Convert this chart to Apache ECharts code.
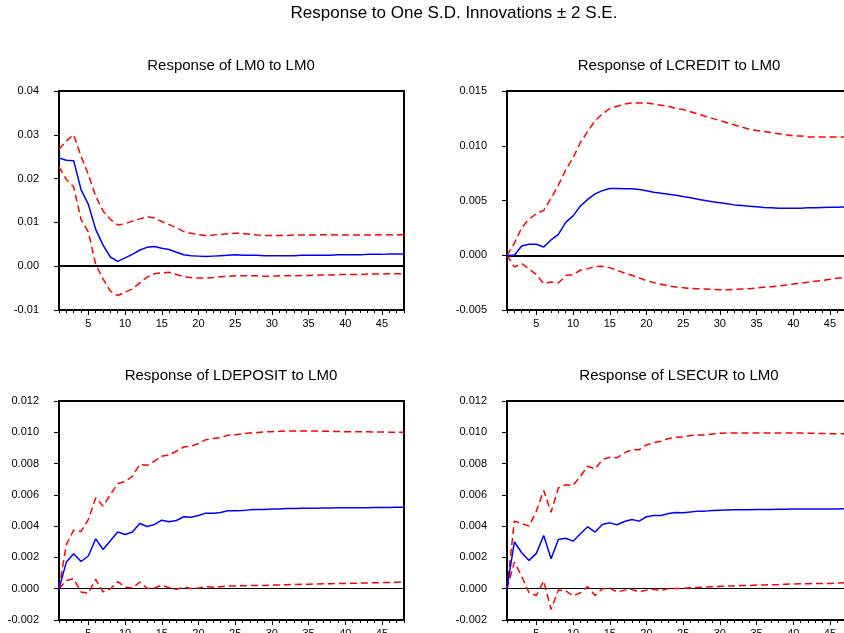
<!DOCTYPE html>
<html>
<head>
<meta charset="utf-8">
<script src="https://cdn.jsdelivr.net/npm/echarts@6/dist/echarts.min.js"></script>
<style>
  html, body { margin: 0; padding: 0; background: #fff; }
  #chart { width: 844px; height: 633px; }
</style>
</head>
<body>
<div id="chart"></div>
<script>
// Impulse responses to a one S.D. shock in LM0, periods 1..48
const periods = Array.from({ length: 48 }, (_, i) => String(i + 1));

const panelTitles = [
  'Response of LM0 to LM0',
  'Response of LCREDIT to LM0',
  'Response of LDEPOSIT to LM0',
  'Response of LSECUR to LM0'
];

// LM0 -> LM0
const lm0Resp = [0.0247,0.0242,0.0241,0.0175,0.0141,0.0084,0.0048,0.0021,0.0011,0.0019,0.0027,0.0037,0.0043,0.0045,0.0041,0.0038,0.0032,0.0026,0.0024,0.0023,0.0022,0.0023,0.0024,0.0025,0.0026,0.0025,0.0025,0.0025,0.0024,0.0024,0.0024,0.0024,0.0024,0.0025,0.0025,0.0025,0.0025,0.0025,0.0026,0.0026,0.0026,0.0026,0.0027,0.0027,0.0027,0.0028,0.0028,0.0028];
const lm0Upper = [0.0267,0.0286,0.0300,0.0251,0.0209,0.0160,0.0126,0.0107,0.0094,0.0097,0.0103,0.0108,0.0113,0.0110,0.0102,0.0095,0.0088,0.0079,0.0075,0.0072,0.0070,0.0071,0.0073,0.0074,0.0075,0.0075,0.0073,0.0071,0.0070,0.0070,0.0070,0.0070,0.0071,0.0071,0.0071,0.0071,0.0072,0.0072,0.0071,0.0071,0.0071,0.0071,0.0071,0.0072,0.0072,0.0072,0.0072,0.0072];
const lm0Lower = [0.0227,0.0198,0.0181,0.0107,0.0078,0.0004,-0.0029,-0.0057,-0.0067,-0.0059,-0.0052,-0.0038,-0.0025,-0.0017,-0.0015,-0.0014,-0.0019,-0.0024,-0.0026,-0.0027,-0.0027,-0.0026,-0.0024,-0.0023,-0.0022,-0.0022,-0.0022,-0.0022,-0.0023,-0.0023,-0.0022,-0.0022,-0.0022,-0.0021,-0.0021,-0.0020,-0.0020,-0.0020,-0.0019,-0.0019,-0.0019,-0.0019,-0.0018,-0.0018,-0.0018,-0.0017,-0.0017,-0.0017];

// LM0 -> LCREDIT
const creditResp = [0,0,0.00085,0.0010,0.0010,0.00076,0.0014,0.0019,0.0030,0.0036,0.0045,0.0051,0.0056,0.0059,0.0061,0.0061,0.00608,0.00607,0.0060,0.0059,0.00576,0.00567,0.00558,0.00548,0.00537,0.00525,0.00512,0.0050,0.00488,0.00479,0.0047,0.0046,0.00454,0.00448,0.00442,0.00436,0.00433,0.0043,0.0043,0.0043,0.0043,0.00433,0.00433,0.00436,0.00439,0.00439,0.00442,0.00445];
const creditUpper = [0,0.0011,0.0025,0.0033,0.0038,0.0041,0.0052,0.0064,0.0078,0.0089,0.0103,0.0113,0.0123,0.0129,0.0134,0.0136,0.0138,0.0139,0.0139,0.0139,0.0138,0.0137,0.0136,0.0134,0.0133,0.0131,0.0129,0.0127,0.0125,0.0123,0.0121,0.0119,0.0117,0.0115,0.0114,0.0113,0.0112,0.0111,0.0110,0.0109,0.0109,0.0108,0.0108,0.0108,0.0108,0.0108,0.0108,0.0108];
const creditLower = [0,-0.00107,-0.00076,-0.00125,-0.00177,-0.0026,-0.00244,-0.00253,-0.00186,-0.00177,-0.00137,-0.00122,-0.00104,-0.0010,-0.00113,-0.00137,-0.00162,-0.00183,-0.00207,-0.00232,-0.0025,-0.00265,-0.0028,-0.0029,-0.00296,-0.00302,-0.00305,-0.00308,-0.00311,-0.00314,-0.00314,-0.00311,-0.00308,-0.00305,-0.00299,-0.00293,-0.00287,-0.0028,-0.00271,-0.00262,-0.00256,-0.00247,-0.00238,-0.00229,-0.0022,-0.0021,-0.00204,-0.0020];

// LM0 -> LDEPOSIT
const depositResp = [0,0.0017,0.00223,0.00174,0.00209,0.00319,0.00251,0.00306,0.00362,0.00347,0.00362,0.00417,0.00398,0.00411,0.00438,0.00428,0.00436,0.0046,0.00457,0.00468,0.00483,0.00483,0.00487,0.00498,0.00498,0.0050,0.00504,0.00506,0.00506,0.0051,0.0051,0.00513,0.00513,0.00515,0.00515,0.00515,0.00516,0.00516,0.00517,0.00517,0.00518,0.00518,0.00518,0.00519,0.00519,0.00519,0.0052,0.0052];
const depositUpper = [0,0.00283,0.00374,0.00366,0.00443,0.00581,0.00528,0.00602,0.00672,0.00685,0.00719,0.00794,0.00789,0.00815,0.00847,0.00855,0.00879,0.00906,0.00911,0.00928,0.00953,0.0096,0.00966,0.00981,0.00985,0.0099,0.00996,0.00998,0.01002,0.01004,0.01006,0.01009,0.01009,0.01009,0.01009,0.01009,0.01006,0.01006,0.01005,0.01004,0.01004,0.01003,0.01003,0.01002,0.01002,0.01001,0.01001,0.0100];
const depositLower = [0,0.00053,0.00064,-0.00021,-0.00028,0.0006,-0.0002,0.0,0.00045,0.0001,0.00004,0.00043,0.00002,0.00004,0.00023,0.00006,-0.00004,0.0001,0.00002,0.00004,0.00013,0.0001,0.00013,0.00017,0.00017,0.00019,0.0002,0.0002,0.00021,0.00023,0.00024,0.00026,0.00027,0.00028,0.00029,0.0003,0.00031,0.00032,0.00033,0.00034,0.00035,0.00036,0.00037,0.00038,0.00039,0.0004,0.00041,0.00043];

// LM0 -> LSECUR
const securResp = [0,0.0030,0.0023,0.00181,0.00226,0.0034,0.00191,0.00315,0.00323,0.00304,0.00351,0.00396,0.00362,0.00411,0.00421,0.00409,0.0043,0.00443,0.00432,0.0046,0.00468,0.00468,0.00481,0.00487,0.00485,0.00491,0.00496,0.00496,0.0050,0.00502,0.00503,0.00504,0.00505,0.00505,0.00506,0.00507,0.00507,0.00508,0.00508,0.00509,0.00509,0.00509,0.0051,0.0051,0.0051,0.0051,0.00511,0.00511];
const securUpper = [0,0.00432,0.00417,0.0040,0.00496,0.00628,0.00489,0.00645,0.00664,0.0066,0.00719,0.00783,0.00766,0.00826,0.0084,0.00838,0.00868,0.00889,0.00889,0.00919,0.00934,0.00943,0.0096,0.00968,0.0097,0.00979,0.00983,0.00983,0.00989,0.00994,0.00995,0.00996,0.00996,0.00996,0.00996,0.00996,0.00996,0.00996,0.00996,0.00996,0.00995,0.00994,0.00993,0.00992,0.00991,0.0099,0.0099,0.0099];
const securLower = [0,0.0017,0.0008,-0.00026,-0.00043,0.00049,-0.00132,-0.00009,-0.00013,-0.00047,-0.00026,0.00013,-0.00043,0.0,0.00004,-0.00021,-0.00009,-0.00004,-0.00021,-0.00009,-0.00004,-0.00013,0.00002,0.00002,0.00002,0.00006,0.00008,0.0001,0.00013,0.00015,0.00017,0.00018,0.0002,0.00021,0.00023,0.00024,0.00026,0.00027,0.00029,0.0003,0.00031,0.00032,0.00033,0.00034,0.00034,0.00036,0.00038,0.00038];

// Y-axis ranges for each panel
const yMin = [-0.01, -0.005, -0.002, -0.002];
const yMax = [0.04, 0.015, 0.012, 0.012];
const yStep = [0.01, 0.005, 0.002, 0.002];
const yDigits = [2, 3, 3, 3];

const panels = [
  [lm0Resp, lm0Upper, lm0Lower],
  [creditResp, creditUpper, creditLower],
  [depositResp, depositUpper, depositLower],
  [securResp, securUpper, securLower]
];

const gridPos = [
  { left: 59, top: 91 },
  { left: 507, top: 91 },
  { left: 59, top: 401 },
  { left: 507, top: 401 }
];
const zeroLineWidth = [2, 2, 1.2, 1.2];

const FONT = 'Liberation Sans, Arial, sans-serif';

const grids = [], xAxes = [], yAxes = [], series = [], titles = [];

titles.push({
  text: 'Response to One S.D. Innovations \u00b1 2 S.E.',
  left: 454, top: 5, textAlign: 'center', padding: 0,
  textStyle: { fontFamily: FONT, fontSize: 17, fontWeight: 'normal', color: '#000' }
});

panels.forEach((p, i) => {
  const g = gridPos[i];
  grids.push({
    left: g.left, top: g.top, width: 345, height: 219,
    outerBoundsMode: 'none', containLabel: false,
    show: true, borderColor: '#000', borderWidth: 2, backgroundColor: 'transparent'
  });
  titles.push({
    text: panelTitles[i],
    left: g.left + 172, top: g.top - 33, textAlign: 'center', padding: 0,
    textStyle: { fontFamily: FONT, fontSize: 15, fontWeight: 'normal', color: '#000' }
  });
  // short ticks on every period, labels every 5
  xAxes.push({
    type: 'category', gridIndex: i, data: periods, boundaryGap: false,
    axisLine: { onZero: false, lineStyle: { color: '#000', width: 2 } },
    axisTick: { show: true, interval: 0, length: 3, lineStyle: { color: '#000', width: 1 } },
    axisLabel: {
      interval: (idx, v) => Number(v) % 5 === 0,
      margin: 8, fontFamily: FONT, fontSize: 11, color: '#000'
    },
    splitLine: { show: false }
  });
  // longer ticks every 5 periods
  xAxes.push({
    type: 'category', gridIndex: i, data: periods, boundaryGap: false, position: 'bottom',
    axisLine: { show: false, onZero: false },
    axisTick: { show: true, interval: (idx, v) => Number(v) % 5 === 0, length: 5, lineStyle: { color: '#000', width: 1 } },
    axisLabel: { show: false },
    splitLine: { show: false }
  });
  yAxes.push({
    type: 'value', gridIndex: i, min: yMin[i], max: yMax[i], interval: yStep[i],
    axisLine: { show: true, onZero: false, lineStyle: { color: '#000', width: 2 } },
    axisTick: { show: true, length: 5, lineStyle: { color: '#000', width: 1 } },
    axisLabel: {
      margin: 20, fontFamily: FONT, fontSize: 11, color: '#000',
      formatter: v => v.toFixed(yDigits[i])
    },
    splitLine: { show: false }
  });
  const xi = i * 2;
  series.push({
    type: 'line', xAxisIndex: xi, yAxisIndex: i, data: p[1],
    symbol: 'none', silent: true,
    lineStyle: { color: '#ff0000', width: 1.5, type: [7, 4] },
    markLine: {
      silent: true, symbol: 'none', label: { show: false },
      lineStyle: { color: '#000', width: zeroLineWidth[i], type: 'solid' },
      data: [{ yAxis: 0 }], z: 1
    }
  });
  series.push({
    type: 'line', xAxisIndex: xi, yAxisIndex: i, data: p[2],
    symbol: 'none', silent: true,
    lineStyle: { color: '#ff0000', width: 1.5, type: [7, 4] }
  });
  series.push({
    type: 'line', xAxisIndex: xi, yAxisIndex: i, data: p[0],
    symbol: 'none', silent: true,
    lineStyle: { color: '#0000ff', width: 1.5 }
  });
});

const chart = echarts.init(document.getElementById('chart'), null, { renderer: 'canvas' });
chart.setOption({
  animation: false,
  backgroundColor: '#fff',
  title: titles,
  grid: grids,
  xAxis: xAxes,
  yAxis: yAxes,
  series: series
});
</script>
</body>
</html>
